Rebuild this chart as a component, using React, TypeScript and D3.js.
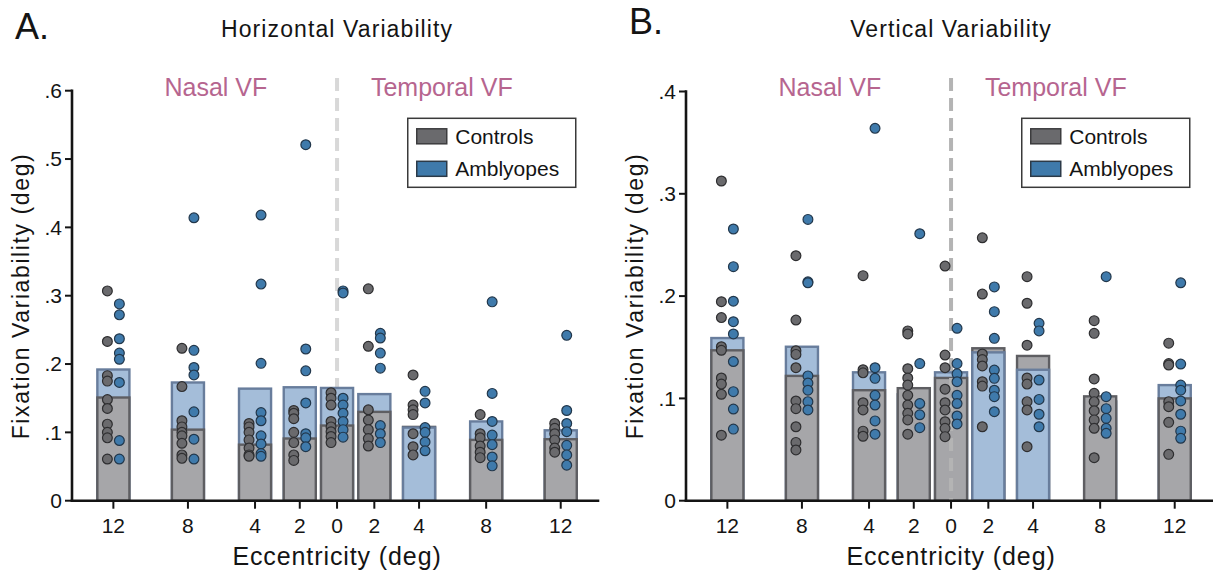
import React from "react";
import * as d3 from "d3";

// Eccentricity slots along the x axis (nasal on the left, temporal on the right)
const eccLabels = ["12", "8", "4", "2", "0", "2", "4", "8", "12"];
const eccSlots = [-6, -4, -2.2, -1, 0, 1, 2.2, 4, 6];

// Horizontal variability: group means (deg)
const hControlsMean = [0.151, 0.104, 0.082, 0.091, 0.11, 0.13, 0.108, 0.089, 0.09];
const hAmblyopesMean = [0.192, 0.173, 0.164, 0.166, 0.165, 0.156, 0.107, 0.116, 0.103];

// Horizontal variability: individual observers
const hControlsPts = [
  [0.307, 0.233, 0.183, 0.175, 0.148, 0.135, 0.112, 0.1, 0.092, 0.061],
  [0.223, 0.167, 0.117, 0.108, 0.1, 0.095, 0.084, 0.067, 0.062],
  [0.113, 0.108, 0.1, 0.089, 0.077, 0.067, 0.065],
  [0.132, 0.128, 0.12, 0.1, 0.085, 0.067, 0.059],
  [0.158, 0.15, 0.14, 0.116, 0.108, 0.101, 0.094, 0.085],
  [0.31, 0.226, 0.133, 0.118, 0.104, 0.091, 0.08],
  [0.184, 0.14, 0.133, 0.126, 0.098, 0.079, 0.067],
  [0.126, 0.098, 0.092, 0.08, 0.071, 0.063],
  [0.113, 0.106, 0.098, 0.089, 0.077, 0.071],
];
const hAmblyopesPts = [
  [0.288, 0.272, 0.237, 0.216, 0.207, 0.173, 0.088, 0.061],
  [0.414, 0.22, 0.195, 0.184, 0.13, 0.09, 0.061],
  [0.418, 0.317, 0.201, 0.129, 0.117, 0.095, 0.083, 0.069, 0.065],
  [0.521, 0.222, 0.19, 0.143, 0.098, 0.092, 0.079],
  [0.307, 0.304, 0.15, 0.14, 0.128, 0.116, 0.104, 0.093],
  [0.245, 0.238, 0.216, 0.194, 0.11, 0.098, 0.085],
  [0.16, 0.143, 0.107, 0.1, 0.086, 0.073],
  [0.291, 0.157, 0.116, 0.096, 0.082, 0.064, 0.051],
  [0.242, 0.132, 0.113, 0.101, 0.081, 0.067, 0.052],
];

// Vertical variability: group means (deg)
const vControlsMean = [0.147, 0.122, 0.108, 0.11, 0.12, 0.149, 0.1415, 0.102, 0.1];
const vAmblyopesMean = [0.159, 0.1505, 0.1255, 0.104, 0.1255, 0.145, 0.128, 0.097, 0.113];

// Vertical variability: individual observers
const vControlsPts = [
  [0.3125, 0.1945, 0.179, 0.1505, 0.147, 0.12, 0.114, 0.104, 0.064],
  [0.2395, 0.1766, 0.1466, 0.143, 0.13, 0.0975, 0.09, 0.0723, 0.057, 0.0496],
  [0.22, 0.128, 0.125, 0.0958, 0.0887, 0.068, 0.063],
  [0.166, 0.163, 0.129, 0.12, 0.113, 0.103, 0.0935, 0.0854, 0.079, 0.065],
  [0.2294, 0.1424, 0.13, 0.109, 0.0958, 0.0887, 0.0772, 0.0708, 0.0626],
  [0.257, 0.202, 0.1434, 0.138, 0.1317, 0.1163, 0.112, 0.0723],
  [0.219, 0.193, 0.152, 0.12, 0.114, 0.0968, 0.0887, 0.0528],
  [0.176, 0.1636, 0.119, 0.105, 0.0968, 0.088, 0.079, 0.0708, 0.042],
  [0.154, 0.134, 0.1326, 0.0968, 0.0919, 0.0766, 0.0453],
];
const vAmblyopesPts = [
  [0.2656, 0.2288, 0.195, 0.175, 0.163, 0.136, 0.1066, 0.0896, 0.07],
  [0.275, 0.214, 0.213, 0.122, 0.115, 0.108, 0.0968, 0.0887],
  [0.364, 0.13, 0.1196, 0.103, 0.0935, 0.078, 0.065],
  [0.261, 0.134, 0.095, 0.084, 0.0714],
  [0.1685, 0.134, 0.124, 0.1163, 0.103, 0.095, 0.0828, 0.075],
  [0.209, 0.1848, 0.1587, 0.1277, 0.1196, 0.108, 0.1017, 0.087],
  [0.1734, 0.166, 0.118, 0.099, 0.0845, 0.0723],
  [0.219, 0.1017, 0.09, 0.0805, 0.0708, 0.0659],
  [0.213, 0.1336, 0.113, 0.108, 0.0975, 0.0845, 0.068, 0.061],
];

// Slots where the amblyope bar is layered in front of the control bar
const hAmblyopesFront = [6];
const vAmblyopesFront = [5, 6];

const groupNames = ["Controls", "Amblyopes"];

const FONT = '"Liberation Sans", Arial, Helvetica, sans-serif';
const INK = "#141414";
const PINK = "#b6658f";
const BAR_GRAY = { fill: "#a6a6a9", stroke: "#5e5e62" };
const BAR_BLUE = { fill: "#a4bdd9", stroke: "#687d9c" };
const DOT_GRAY = { fill: "#6a6a6d", stroke: "#2e2e30" };
const DOT_BLUE = { fill: "#3f7aab", stroke: "#22374b" };

const BASE_Y = 500.7;

type PanelProps = {
  letter: string;
  letterY: number;
  title: string;
  left: number;
  right: number;
  yMax: number;
  yTopPx: number;
  controlsMean: number[];
  amblyopesMean: number[];
  controlsPts: number[][];
  amblyopesPts: number[][];
  amblyopesFront: number[];
  dashColor: string;
  dashOnTop: boolean;
};

function Panel(p: PanelProps) {
  const x = d3.scaleLinear().domain([-7.11, 7.0]).range([p.left, p.right]);
  const y = d3.scaleLinear().domain([0, p.yMax]).range([BASE_Y, p.yTopPx]);
  const cx = x(0);
  const yTicks = d3.range(0, p.yMax + 1e-9, 0.1);
  const fmt = (d: number) => (d === 0 ? "0" : d3.format(".1f")(d).replace(/^0/, ""));
  const halfW = 0.43;

  const bar = (i: number, v: number, c: { fill: string; stroke: string }, key: string) => (
    <rect
      key={key}
      x={x(eccSlots[i] - halfW)}
      y={y(v)}
      width={x(eccSlots[i] + halfW) - x(eccSlots[i] - halfW)}
      height={y(0) - y(v)}
      fill={c.fill}
      stroke={c.stroke}
      strokeWidth={2.4}
    />
  );

  const dash = (
    <line
      x1={cx}
      x2={cx}
      y1={78}
      y2={BASE_Y}
      stroke={p.dashColor}
      strokeWidth={4}
      strokeDasharray="13 7"
    />
  );

  const legendX = cx + 70.7;
  const legendY = 118.3;

  return (
    <g>
      <text x={p.left - 57} y={p.letterY} fontSize={36} fill={INK} fontFamily={FONT}>
        {p.letter}
      </text>
      <text
        x={cx}
        y={36.7}
        fontSize={23}
        letterSpacing={1.1}
        textAnchor="middle"
        fill={INK}
        fontFamily={FONT}
      >
        {p.title}
      </text>
      <text x={x(-3.25)} y={96} fontSize={25} textAnchor="middle" fill={PINK} fontFamily={FONT}>
        Nasal VF
      </text>
      <text x={x(2.81)} y={96} fontSize={25} textAnchor="middle" fill={PINK} fontFamily={FONT}>
        Temporal VF
      </text>

      {!p.dashOnTop && dash}

      {eccSlots.map((_, i) => {
        const c = bar(i, p.controlsMean[i], BAR_GRAY, `c${i}`);
        const a = bar(i, p.amblyopesMean[i], BAR_BLUE, `a${i}`);
        return <g key={i}>{p.amblyopesFront.includes(i) ? [c, a] : [a, c]}</g>;
      })}

      {p.dashOnTop && dash}

      {eccSlots.map((s, i) => (
        <g key={`d${i}`}>
          {p.controlsPts[i].map((v, j) => (
            <circle
              key={`dc${j}`}
              cx={x(s) - 6}
              cy={y(v)}
              r={4.9}
              fill={DOT_GRAY.fill}
              stroke={DOT_GRAY.stroke}
              strokeWidth={1.2}
            />
          ))}
          {p.amblyopesPts[i].map((v, j) => (
            <circle
              key={`da${j}`}
              cx={x(s) + 6}
              cy={y(v)}
              r={4.9}
              fill={DOT_BLUE.fill}
              stroke={DOT_BLUE.stroke}
              strokeWidth={1.2}
            />
          ))}
        </g>
      ))}

      {/* y axis */}
      <line x1={p.left} x2={p.left} y1={y(p.yMax)} y2={y(0)} stroke={INK} strokeWidth={2.6} strokeLinecap="square" />
      {yTicks.map((t) => (
        <g key={`yt${t}`}>
          <line x1={p.left - 7} x2={p.left} y1={y(t)} y2={y(t)} stroke={INK} strokeWidth={2} />
          <text
            x={p.left - 10}
            y={y(t)}
            dy="0.35em"
            fontSize={21}
            textAnchor="end"
            fill={INK}
            fontFamily={FONT}
          >
            {fmt(t)}
          </text>
        </g>
      ))}
      <text
        transform={`translate(${p.left - 43},${296}) rotate(-90)`}
        fontSize={23}
        letterSpacing={1.6}
        textAnchor="middle"
        fill={INK}
        fontFamily={FONT}
      >
        Fixation Variability (deg)
      </text>

      {/* x axis */}
      <line x1={p.left} x2={p.right} y1={y(0)} y2={y(0)} stroke={INK} strokeWidth={2.6} strokeLinecap="square" />
      {eccSlots.map((s, i) => (
        <g key={`xt${i}`}>
          <line x1={x(s)} x2={x(s)} y1={y(0)} y2={y(0) + 8} stroke={INK} strokeWidth={2} />
          <text x={x(s)} y={533} fontSize={21} textAnchor="middle" fill={INK} fontFamily={FONT}>
            {eccLabels[i]}
          </text>
        </g>
      ))}
      <text x={cx} y={565} fontSize={25} letterSpacing={0.9} textAnchor="middle" fill={INK} fontFamily={FONT}>
        Eccentricity (deg)
      </text>

      {/* legend */}
      <rect x={legendX} y={legendY} width={168} height={69} fill="#fff" stroke="#3a3a3a" strokeWidth={1.5} />
      {groupNames.map((name, k) => (
        <g key={name}>
          <rect
            x={legendX + 9}
            y={legendY + 10.5 + k * 32.5}
            width={30}
            height={15}
            fill={k === 0 ? DOT_GRAY.fill : DOT_BLUE.fill}
            stroke={k === 0 ? "#3c3c3e" : "#2c3a48"}
            strokeWidth={1.5}
          />
          <text
            x={legendX + 47.5}
            y={legendY + 25.2 + k * 32.2}
            fontSize={21}
            fill={INK}
            fontFamily={FONT}
          >
            {name}
          </text>
        </g>
      ))}
    </g>
  );
}

export default function App() {
  return (
    <div style={{ position: "absolute", left: 0, top: 0 }}>
      <svg width={1213} height={572} viewBox="0 0 1213 572" style={{ display: "block", background: "#fff" }}>
        <Panel
          letter="A."
          letterY={39}
          title="Horizontal Variability"
          left={72}
          right={598}
          yMax={0.6}
          yTopPx={90.7}
          controlsMean={hControlsMean}
          amblyopesMean={hAmblyopesMean}
          controlsPts={hControlsPts}
          amblyopesPts={hAmblyopesPts}
          amblyopesFront={hAmblyopesFront}
          dashColor="#d8d8d8"
          dashOnTop={false}
        />
        <Panel
          letter="B."
          letterY={34}
          title="Vertical Variability"
          left={686}
          right={1212}
          yMax={0.4}
          yTopPx={91.5}
          controlsMean={vControlsMean}
          amblyopesMean={vAmblyopesMean}
          controlsPts={vControlsPts}
          amblyopesPts={vAmblyopesPts}
          amblyopesFront={vAmblyopesFront}
          dashColor="#b4b4b4"
          dashOnTop={true}
        />
      </svg>
    </div>
  );
}
